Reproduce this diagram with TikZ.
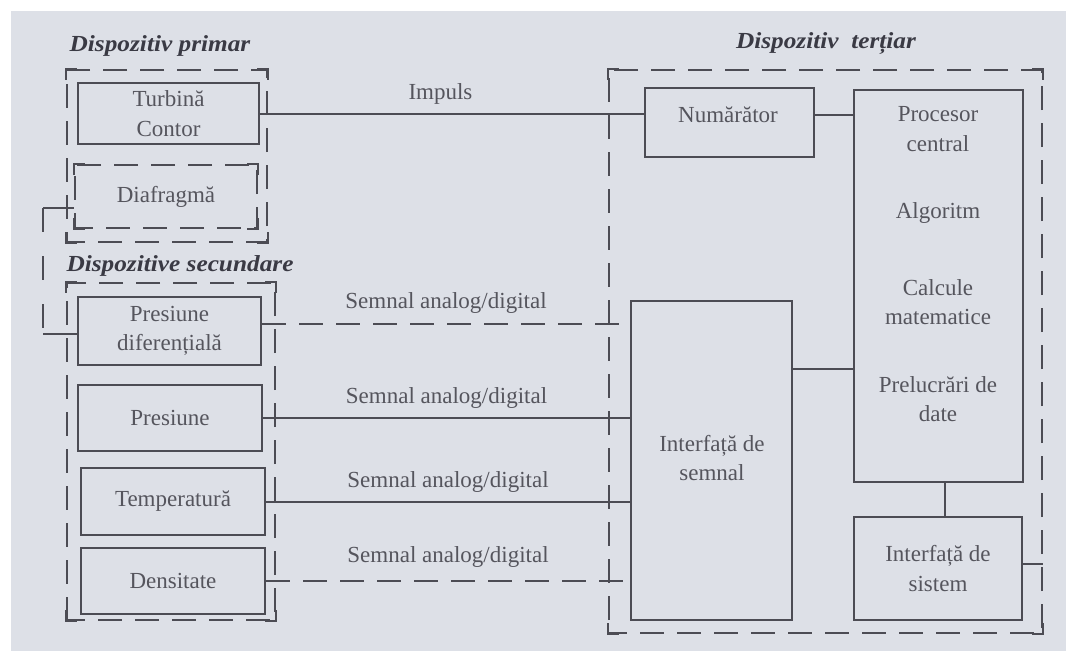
\documentclass[tikz,border=0pt]{standalone}
\usepackage{fontspec}
\setmainfont{Liberation Serif}
\definecolor{paper}{HTML}{DDE0E7}
\definecolor{ink}{HTML}{4C4C54}
\definecolor{txt}{HTML}{55555D}
\definecolor{ttl}{HTML}{3A3A44}
\tikzset{
  unit/.style={draw=ink, line width=2pt, rectangle, inner sep=0pt,
    minimum width=#1, text=txt, align=center,
    font=\fontsize{23}{29.5}\selectfont},
  group/.style={draw=ink, line width=2.2pt, rectangle, inner sep=0pt,
    dash pattern=on 24pt off 13pt, dash phase=6pt, text=txt,
    font=\fontsize{23}{29.5}\selectfont},
  corner/.style={draw=ink, line width=2.2pt},
  wire/.style={draw=ink, line width=2pt},
  dwire/.style={draw=ink, line width=2.2pt, dash pattern=on 24pt off 13pt},
  lbl/.style={text=txt, inner sep=0pt, font=\fontsize{23}{29.5}\selectfont},
  caption/.style={text=ttl, inner sep=0pt,
    font=\fontsize{23}{28}\selectfont\bfseries\itshape},
  txtonly/.style={text=txt, inner sep=0pt, align=center,
    font=\fontsize{23}{29.5}\selectfont}
}
\begin{document}
\begin{tikzpicture}[x=1pt,y=-1pt]
  % sheet
  \fill[white] (0,0) rectangle (1066,651);
  \fill[paper] (11,11) rectangle (1066,651);
  \useasboundingbox (0,0) rectangle (1066,651);

  % group frames
  \node[group, minimum width=200pt, minimum height=172pt] (gprim) at (167,156) {};
  \node[group, minimum width=182pt, minimum height=63pt] (diaf) at (166,196.5) {Diafragmă};
  \node[group, minimum width=208pt, minimum height=337pt] (gsec) at (171,451.5) {};
  \node[group, minimum width=433pt, minimum height=563pt] (gter) at (825.5,351.5) {};
  % closed corners of the frames
  \foreach \f in {gprim,diaf,gsec,gter}{
    \draw[corner] ([yshift=-11pt]\f.north west) -- (\f.north west) -- ([xshift=11pt]\f.north west);
    \draw[corner] ([yshift=-11pt]\f.north east) -- (\f.north east) -- ([xshift=-11pt]\f.north east);
    \draw[corner] ([yshift=11pt]\f.south west) -- (\f.south west) -- ([xshift=11pt]\f.south west);
    \draw[corner] ([yshift=11pt]\f.south east) -- (\f.south east) -- ([xshift=-11pt]\f.south east);
  }

  % captions
  \node[caption, xscale=1.1] (cprim) at (160,46) {Dispozitiv primar};
  \node[caption, xscale=1.1] (csec) at (180,266) {Dispozitive secundare};
  \node[caption, xscale=1.1] (cter) at (826,43) {Dispozitiv\ \ terțiar};

  % primary and secondary devices
  \node[unit=181pt, minimum height=61pt] (turb) at (168.5,113.5) {Turbină\\Contor};
  \node[unit=183pt, minimum height=68pt] (pdif) at (169.5,331) {Presiune\\diferențială};
  \node[unit=184pt, minimum height=66pt] (pres) at (170,418) {Presiune};
  \node[unit=184pt, minimum height=67pt] (temp) at (173,501.5) {Temperatură};
  \node[unit=184pt, minimum height=66pt] (dens) at (173,581) {Densitate};

  % tertiary device
  \node[unit=169pt, minimum height=69pt] (numr) at (729.5,122.5) {};
  \node[txtonly] (tnumr) at (728,115) {Numărător};
  \node[unit=169pt, minimum height=392pt] (proc) at (938.5,286) {};
  \node[txtonly] (tproc1) at (938,129) {Procesor\\central};
  \node[txtonly] (tproc2) at (938,213) {Algoritm};
  \node[txtonly] (tproc3) at (938,302) {Calcule\\matematice};
  \node[txtonly] (tproc4) at (938,399) {Prelucrări de\\date};
  \node[unit=161pt, minimum height=319pt] (isem) at (711.5,460.5) {};
  \node[txtonly] (tisem) at (712,458) {Interfață de\\semnal};
  \node[unit=168pt, minimum height=103pt] (isis) at (938,568.5) {Interfață de\\sistem};

  % connectors
  \draw[wire] (turb.east) -- node[lbl, pos=.47, above=8pt] {Impuls} (turb.east -| numr.west);
  \draw[wire] ([yshift=7.5pt]numr.east) -- ([yshift=7.5pt]numr.east -| proc.west);
  \draw[dwire] ([yshift=7pt]pdif.east) -- node[lbl, above=9pt] {Semnal analog/digital}
    ([yshift=7pt]pdif.east -| isem.west);
  \draw[wire] (pres.east) -- node[lbl, above=9pt] {Semnal analog/digital} (pres.east -| isem.west);
  \draw[wire] (temp.east) -- node[lbl, above=8pt] {Semnal analog/digital} (temp.east -| isem.west);
  \draw[dwire] (dens.east) -- node[lbl, above=12pt] {Semnal analog/digital} (dens.east -| isem.west);
  \draw[wire] ([yshift=91.5pt]isem.east) -- ([yshift=91.5pt]isem.east -| proc.west);
  \draw[wire] ([xshift=6pt]proc.south) -- ([xshift=6pt]proc.south |- isis.north);
  \draw[wire] ([yshift=4.5pt]isis.east) -- ([yshift=4.5pt]isis.east -| gter.east);

  % link between diaphragm and differential pressure
  \coordinate (b1) at (43,208);
  \coordinate (b2) at (43,334);
  \draw[wire] (b1 -| diaf.west) -- (b1);
  \draw[wire, line width=2.2pt, dash pattern=on 24pt off 24pt] (b1) -- (b2);
  \draw[wire] (b2) -- (b2 -| pdif.west);
\end{tikzpicture}
\end{document}
